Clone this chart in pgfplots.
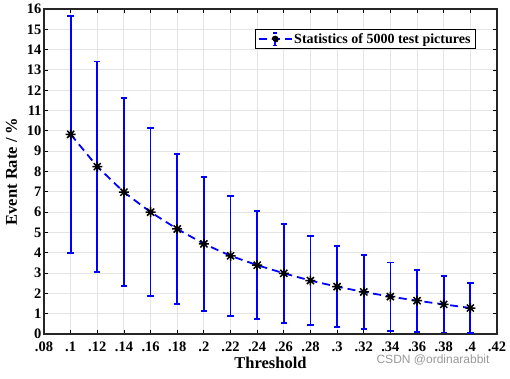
\documentclass[border=0pt]{standalone}
\usepackage{pgfplots}
\pgfplotsset{compat=1.18}
\usepackage{fontspec}
\setmainfont{Liberation Serif}
\setsansfont{Liberation Sans}
\pgfdeclareplotmark{ast8}{%
  \pgfpathmoveto{\pgfqpoint{-\pgfplotmarksize}{0pt}}\pgfpathlineto{\pgfqpoint{\pgfplotmarksize}{0pt}}%
  \pgfpathmoveto{\pgfqpoint{0pt}{-\pgfplotmarksize}}\pgfpathlineto{\pgfqpoint{0pt}{\pgfplotmarksize}}%
  \pgfpathmoveto{\pgfqpoint{-0.707\pgfplotmarksize}{-0.707\pgfplotmarksize}}\pgfpathlineto{\pgfqpoint{0.707\pgfplotmarksize}{0.707\pgfplotmarksize}}%
  \pgfpathmoveto{\pgfqpoint{-0.707\pgfplotmarksize}{0.707\pgfplotmarksize}}\pgfpathlineto{\pgfqpoint{0.707\pgfplotmarksize}{-0.707\pgfplotmarksize}}%
  \pgfusepathqstroke}
\pgfplotstableread{
x     y     e
0.10  9.83  5.84
0.12  8.24  5.18
0.14  6.98  4.63
0.16  6.00  4.14
0.18  5.17  3.71
0.20  4.44  3.30
0.22  3.85  2.95
0.24  3.39  2.67
0.26  2.99  2.43
0.28  2.63  2.20
0.30  2.33  1.99
0.32  2.07  1.82
0.34  1.84  1.68
0.36  1.64  1.53
0.38  1.46  1.39
0.40  1.28  1.24
}\datatable
\begin{document}
\begin{tikzpicture}
\begin{axis}[
  scale only axis, width=453pt, height=325pt,
  xmin=0.08, xmax=0.42, ymin=0, ymax=16,
  xtick={0.08,0.10,0.12,0.14,0.16,0.18,0.20,0.22,0.24,0.26,0.28,0.30,0.32,0.34,0.36,0.38,0.40,0.42},
  xticklabels={.08,.1,.12,.14,.16,.18,.2,.22,.24,.26,.28,.3,.32,.34,.36,.38,.4,.42},
  ytick={0,1,...,16},
  grid=major, grid style={black!10, line width=0.9pt},
  tick align=inside, major tick length=4pt,
  tick style={black, line width=0.8pt},
  axis line style={black!85, line width=1.2pt},
  ticklabel style={font=\fontsize{14.5}{15}\selectfont\bfseries},
  /pgf/number format/assume math mode=true,
  xlabel={Threshold}, ylabel={Event Rate / \%},
  label style={font=\fontsize{16.5}{18}\selectfont\bfseries},
  xlabel style={yshift=1pt},
  ylabel style={yshift=3pt},
  xticklabel style={yshift=-4pt},
  yticklabel style={xshift=1pt},
  legend style={at={(1,1)}, anchor=north east, xshift=-21pt, yshift=-20pt,
    draw=black, line width=1pt, font=\fontsize{14}{15}\selectfont\bfseries,
    inner ysep=2pt, inner xsep=3pt},
  legend cell align=left,
  legend image code/.code={
    \draw[blue, line width=1.4pt] (-0.15cm,0cm) -- (1.0cm,0cm);
    \draw[blue, line width=1.4pt] (0.425cm,-0.22cm) -- (0.425cm,0.22cm);
    \draw[blue, line width=1.4pt] (0.35cm,-0.22cm) -- (0.50cm,-0.22cm);
    \draw[blue, line width=1.4pt] (0.35cm,0.22cm) -- (0.50cm,0.22cm);
    \fill[black] (0.425cm,0cm) circle (2.6pt);
  },
]
\addplot[blue, dash pattern=on 8pt off 5pt, line width=1.8pt,
  mark=ast8, mark size=5pt,
  mark options={black, solid, line width=1.5pt},
  error bars/.cd, y dir=both, y explicit,
  error bar style={blue, solid, line width=1.8pt},
  error mark options={rotate=90, blue, mark size=3.2pt, line width=1.8pt}]
  table[x=x, y=y, y error=e] {\datatable};
\addlegendentry{Statistics of 5000 test pictures}
\coordinate (bl) at (rel axis cs:0,0);
\coordinate (tr) at (rel axis cs:1,1);
\end{axis}
\node[anchor=base east, text=black!40, font=\sffamily\fontsize{12}{13}\selectfont]
  at ([shift={(-4pt,-29pt)}]tr |- bl) {CSDN @ordinarabbit};
\pgfresetboundingbox
\path[use as bounding box] ([shift={(-44pt,-44pt)}]bl) rectangle ([shift={(13pt,9pt)}]tr);
\end{tikzpicture}
\end{document}
